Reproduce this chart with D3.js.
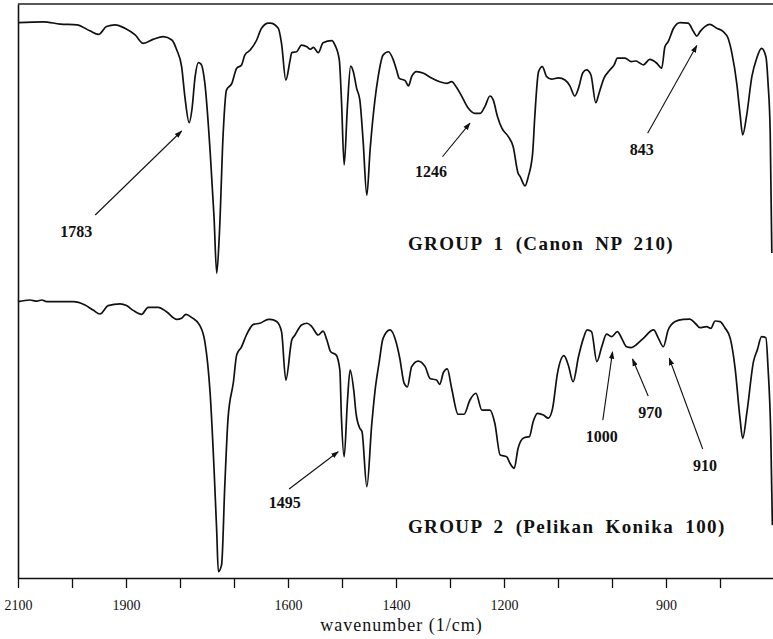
<!DOCTYPE html>
<html>
<head>
<meta charset="utf-8">
<script src="https://cdn.jsdelivr.net/npm/d3@7"></script>
<style>
  body { margin: 0; background: #fff; }
  text { font-family: "Liberation Serif", "DejaVu Serif", serif; fill: #111; }
</style>
</head>
<body>
<div id="chart"></div>
<script>
// wavenumber (1/cm) and transmittance (%), group 1
var group1Wave = [2100,2053,2022,1991,1967,1951,1936,1920,1902,1883,1868,1849,1831,1815,1806,1797,1791,1783,1778,1772,1766,1761,1754,1744,1737,1732,1727,1720,1714,1704,1695,1686,1680,1670,1658,1649,1636,1633,1618,1612,1604,1596,1593,1584,1575,1565,1559,1553,1544,1535,1519,1513,1505,1501,1496,1490,1484,1479,1473,1467,1461,1454,1448,1439,1433,1424,1414,1405,1399,1394,1383,1377,1371,1362,1349,1337,1319,1306,1297,1288,1278,1266,1254,1244,1235,1226,1220,1212,1204,1192,1183,1174,1170,1161,1155,1147,1143,1136,1129,1121,1112,1099,1087,1078,1069,1062,1054,1047,1039,1030,1024,1015,1004,996,990,976,964,956,948,942,930,917,908,902,896,886,874,859,849,843,837,828,819,806,794,785,778,769,763,758,751,741,732,723,715,711,707,704];
var group1T = [96.2,96.5,95.7,95.4,93.3,92.0,94.8,95.4,94.2,91.8,88.8,90.3,91.2,90.0,86.4,80.5,69.8,60.5,65.0,76.9,81.9,81.4,74.6,49.6,26.9,6.7,21.1,56.8,72.1,74.5,79.9,81.1,84.6,86.4,90.0,94.2,96.0,96.0,94.2,88.8,75.7,82.9,85.5,85.8,88.2,87.6,86.7,87.4,85.5,89.0,89.8,88.2,82.9,68.6,45.4,66.2,80.7,78.7,72.8,68.6,54.3,34.6,50.7,68.6,76.9,84.6,85.8,82.9,79.3,76.3,75.5,73.6,76.9,78.7,78.1,76.7,75.1,74.5,75.1,73.1,69.8,65.6,63.8,63.8,66.4,70.0,68.6,62.6,58.5,55.5,51.9,42.5,41.2,37.9,41.2,49.5,62.6,78.7,80.5,76.9,76.0,76.5,75.7,73.6,70.0,72.8,78.3,79.3,77.5,67.6,71.0,76.3,79.3,81.1,83.5,83.5,82.3,82.5,81.7,81.1,83.1,81.7,79.9,87.6,89.4,94.2,96.2,96.0,93.0,91.4,93.0,94.8,95.6,94.2,93.0,90.6,85.3,74.5,63.8,56.1,62.6,76.9,83.5,87.0,84.0,74.5,56.8,13.9];

// group 2
var group2Wave = [2100,2078,2065,2056,2047,1998,1976,1961,1948,1933,1911,1899,1886,1871,1859,1840,1825,1806,1797,1789,1778,1764,1754,1744,1737,1732,1729,1723,1717,1711,1701,1695,1686,1677,1664,1652,1636,1633,1621,1612,1604,1593,1587,1575,1565,1556,1544,1535,1528,1521,1511,1504,1501,1496,1490,1485,1478,1474,1467,1463,1454,1445,1439,1431,1424,1411,1400,1393,1385,1379,1371,1359,1346,1337,1325,1319,1312,1305,1297,1285,1274,1263,1252,1241,1226,1217,1207,1195,1189,1181,1174,1163,1153,1146,1138,1127,1118,1110,1101,1089,1081,1072,1062,1053,1046,1038,1028,1019,1010,1001,990,982,973,964,954,942,923,914,905,896,883,868,856,846,837,825,817,809,800,791,781,772,763,758,750,738,731,723,715,711,706,703];
var group2T = [99.4,100,99.6,100,99.4,99.4,98.2,96.4,95.0,98.0,98.6,98.0,96.2,94.9,97.4,97.4,95.8,93.1,93.5,94.9,93.7,91.1,85.1,66.1,39.9,17.3,3.0,5.4,33.9,57.8,70.8,80.4,83.3,87.5,91.3,91.7,93.1,93.1,92.3,88.7,71.4,85.7,87.5,91.1,91.7,90.5,87.5,88.9,85.7,81.5,80.4,75.0,57.8,44.0,63.7,75.0,67.3,59.5,54.2,53.0,33.3,55.4,67.3,78.0,86.3,89.3,85.1,79.2,70.3,69.0,76.2,78.2,76.2,72.0,71.4,69.9,74.2,75.4,68.5,59.2,59.2,64.3,66.7,60.7,60.7,56.0,44.6,44.0,41.7,39.9,47.0,50.8,51.2,56.5,59.5,58.9,57.8,61.3,73.8,80.1,76.8,70.8,79.8,86.3,89.3,88.7,78.0,83.3,87.8,86.9,88.7,86.3,83.3,83.0,84.2,86.3,89.3,86.3,83.3,89.3,92.3,93.1,93.2,91.7,90.1,90.5,89.9,92.5,92.3,90.1,86.3,75.6,57.8,50.6,60.1,78.0,82.1,86.9,86.5,75.6,51.8,19.6];

// axis ticks and which of them carry a label
var tickValues = [2100,2000,1900,1800,1700,1600,1500,1400,1300,1200,1100,1000,900,800];
var tickLabels = [2100,1900,1600,1400,1200,900];

// peak annotations: label, text position, arrow tail, arrow tip (wavenumber, %T)
var notes1 = [
  {label: "1783", tw: 1992, tt: 19.6, w0: 1957, t0: 27.5, w1: 1797, t1: 57.5},
  {label: "1246", tw: 1335, tt: 41.1, w0: 1314, t0: 48.3, w1: 1263, t1: 60.3},
  {label: "843",  tw: 945,  tt: 48.9, w0: 934,  t0: 56.7, w1: 843,  t1: 88.0}
];
var notes2 = [
  {label: "1495", tw: 1606, tt: 25.7, w0: 1598, t0: 32.5, w1: 1507, t1: 45.8},
  {label: "1000", tw: 1019, tt: 49.3, w0: 1017, t0: 57.1, w1: 999,  t1: 81.5},
  {label: "970",  tw: 929,  tt: 57.9, w0: 933,  t0: 65.7, w1: 962,  t1: 78.9},
  {label: "910",  tw: 828,  tt: 38.9, w0: 832,  t0: 46.8, w1: 894,  t1: 79.2}
];
var titles = ["GROUP 1 (Canon NP 210)", "GROUP 2 (Pelikan Konika 100)"];

var width = 773, height = 639;

var svg = d3.select("#chart")
  .append("svg")
    .attr("width", width)
    .attr("height", height);

svg.append("defs").append("marker")
    .attr("id", "head")
    .attr("viewBox", "0 0 10 10")
    .attr("refX", 9).attr("refY", 5)
    .attr("markerWidth", 7).attr("markerHeight", 7)
    .attr("orient", "auto")
  .append("path")
    .attr("d", "M0,1.5 L10,5 L0,8.5 Z")
    .attr("fill", "#111");

// x scale: linear in wavenumber, high to low
var x = d3.scaleLinear()
    .domain([2100, 700])
    .range([18, 774]);

// one transmittance scale per stacked panel
var y1 = d3.scaleLinear().domain([0, 100]).range([292, 12]);
var y2 = d3.scaleLinear().domain([0, 100]).range([580, 300]);
var frameY = d3.scaleLinear().domain([0, 1]).range([578, 4]);

// bottom axis
var xAxis = svg.append("g")
    .attr("transform", "translate(0," + frameY(0) + ")")
    .call(d3.axisBottom(x)
      .tickValues(tickValues)
      .tickSize(10)
      .tickSizeOuter(0)
      .tickPadding(12)
      .tickFormat(function(d) { return tickLabels.indexOf(d) >= 0 ? d : ""; }));
xAxis.select(".domain").attr("stroke", "#111").attr("stroke-width", 1.6);
xAxis.selectAll(".tick line").attr("stroke", "#111").attr("stroke-width", 1.3);
xAxis.selectAll(".tick text")
    .attr("font-family", "Liberation Serif, serif")
    .attr("font-size", 14)
    .attr("fill", "#111");

// left border
var yAxis = svg.append("g")
    .attr("transform", "translate(" + x(2100) + ",0)")
    .call(d3.axisLeft(frameY).ticks(0).tickSizeOuter(0));
yAxis.select(".domain").attr("stroke", "#111").attr("stroke-width", 1.6);

// top border
svg.append("line")
    .attr("x1", x(2100)).attr("x2", width)
    .attr("y1", frameY(1)).attr("y2", frameY(1))
    .attr("stroke", "#222").attr("stroke-width", 1.6);

svg.append("text")
    .attr("x", (x(2100) + width) / 2 + 6)
    .attr("y", 631)
    .attr("text-anchor", "middle")
    .attr("font-size", 18)
    .attr("letter-spacing", 1)
    .text("wavenumber (1/cm)");

function drawPanel(waves, trans, y, notes, title) {
  var data = waves.map(function(w, i) { return {w: w, t: trans[i]}; });

  var line = d3.line()
    .x(function(d) { return x(d.w); })
    .y(function(d) { return y(d.t); })
    .curve(d3.curveMonotoneX);

  svg.append("path")
     .datum(data)
     .attr("fill", "none")
     .attr("stroke", "#111")
     .attr("stroke-width", 1.7)
     .attr("stroke-linejoin", "round")
     .attr("d", line);

  notes.forEach(function(n) {
    svg.append("line")
       .attr("x1", x(n.w0)).attr("y1", y(n.t0))
       .attr("x2", x(n.w1)).attr("y2", y(n.t1))
       .attr("stroke", "#111")
       .attr("stroke-width", 1.1)
       .attr("marker-end", "url(#head)");
    svg.append("text")
       .attr("x", x(n.tw)).attr("y", y(n.tt))
       .attr("text-anchor", "middle")
       .attr("font-size", 16)
       .attr("font-weight", "bold")
       .text(n.label);
  });

  svg.append("text")
     .attr("x", x(1378)).attr("y", y(title.t))
     .attr("font-size", 19)
     .attr("font-weight", "bold")
     .attr("letter-spacing", 1.4)
     .attr("word-spacing", 5)
     .text(title.text);
}

drawPanel(group1Wave, group1T, y1, notes1, {text: titles[0], t: 15});
drawPanel(group2Wave, group2T, y2, notes2, {text: titles[1], t: 16.8});
</script>
</body>
</html>
